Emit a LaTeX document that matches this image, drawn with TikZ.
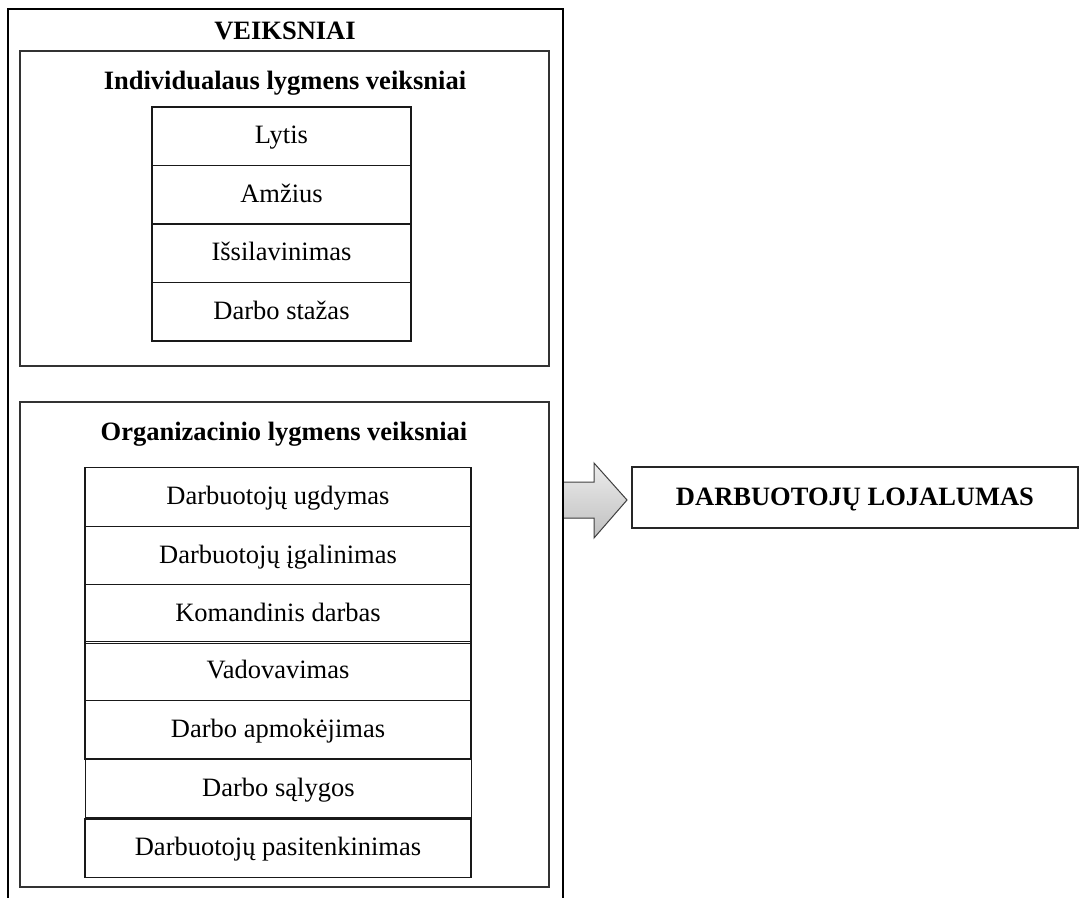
\documentclass[tikz,border=0pt]{standalone}
\usepackage{fontspec}
\setmainfont{Liberation Serif}
\begin{document}
\begin{tikzpicture}[x=1pt,y=-1pt,
  every node/.style={font=\fontsize{26.5}{30}\selectfont},
  textline/.style={text height=19pt, text depth=4pt},
  panel/.style={draw=black!80, line width=1.3pt, inner sep=0pt},
  indbox/.style={textline, draw=black!90, line width=1.3pt, inner sep=0pt,
                 minimum width=259pt, minimum height=58.5pt},
  orgbox/.style={textline, draw=black!90, line width=1.3pt, inner sep=0pt,
                 minimum width=386pt, minimum height=58.57pt},
  heading/.style={textline, font=\fontsize{26.5}{30}\selectfont\bfseries, inner sep=0pt},
  resultbox/.style={textline, draw=black!85, line width=1.3pt, inner sep=0pt,
                 minimum width=446pt, minimum height=61pt,
                 font=\fontsize{26.5}{30}\selectfont\bfseries}
]
\useasboundingbox (0,0) rectangle (1086,897);

% outer frame (open at the bottom)
\coordinate (fbl) at (8,905);
\coordinate (ftl) at (8,9);
\coordinate (ftr) at (563,9);
\coordinate (fbr) at (563,905);
\draw[line width=2.6pt] (fbl) -- (ftl) -- (ftr) -- (fbr);
\node[heading] (title) at (285,31.5) {VEIKSNIAI};

% individual level
\node[panel, minimum width=529pt, minimum height=315pt] (ind) at (284.5,208.5) {};
\node[heading] (indtitle) at (285,81.5) {Individualaus lygmens veiksniai};
\node[indbox] (i1) at (281.5,136.25) {Lytis};
\node[indbox] (i2) at (281.5,194.75) {Amžius};
\node[indbox] (i3) at (281.5,253.25) {Išsilavinimas};
\node[indbox] (i4) at (281.5,311.75) {Darbo stažas};

% organisational level
\node[panel, minimum width=529pt, minimum height=485pt] (org) at (284.5,644.5) {};
\node[heading] (orgtitle) at (284,432.5) {Organizacinio lygmens veiksniai};
\node[orgbox] (o1) at (278,497.0) {Darbuotojų ugdymas};
\node[orgbox] (o2) at (278,555.5) {Darbuotojų įgalinimas};
\node[orgbox] (o3) at (278,614.0) {Komandinis darbas};
\node[orgbox] (o4) at (278,671.0) {Vadovavimas};
\node[orgbox] (o5) at (278,729.7) {Darbo apmokėjimas};
\node[orgbox] (o6) at (278.4,788.8) {Darbo sąlygos};
\node[orgbox] (o7) at (278,848.2) {Darbuotojų pasitenkinimas};

% result
\node[resultbox] (res) at (855,497.5) {DARBUOTOJŲ LOJALUMAS};

% block arrow from the frame to the result
\coordinate (a1) at (563,482);
\coordinate (a2) at (594,482);
\coordinate (a3) at (594,463);
\coordinate (tip) at (627,500);
\coordinate (a5) at (594,538);
\coordinate (a6) at (594,518);
\coordinate (a7) at (563,518);
\fill[black!55, shift={(1.5,1.5)}] (a1) -- (a2) -- (a3) -- (tip) -- (a5) -- (a6) -- (a7) -- cycle;
\draw[black!75, line width=1pt, top color=gray!15, bottom color=gray!50]
  (a1) -- (a2) -- (a3) -- (tip) -- (a5) -- (a6) -- (a7) -- cycle;
\draw[line width=2.6pt] (563,470) -- (563,530);
\end{tikzpicture}
\end{document}
